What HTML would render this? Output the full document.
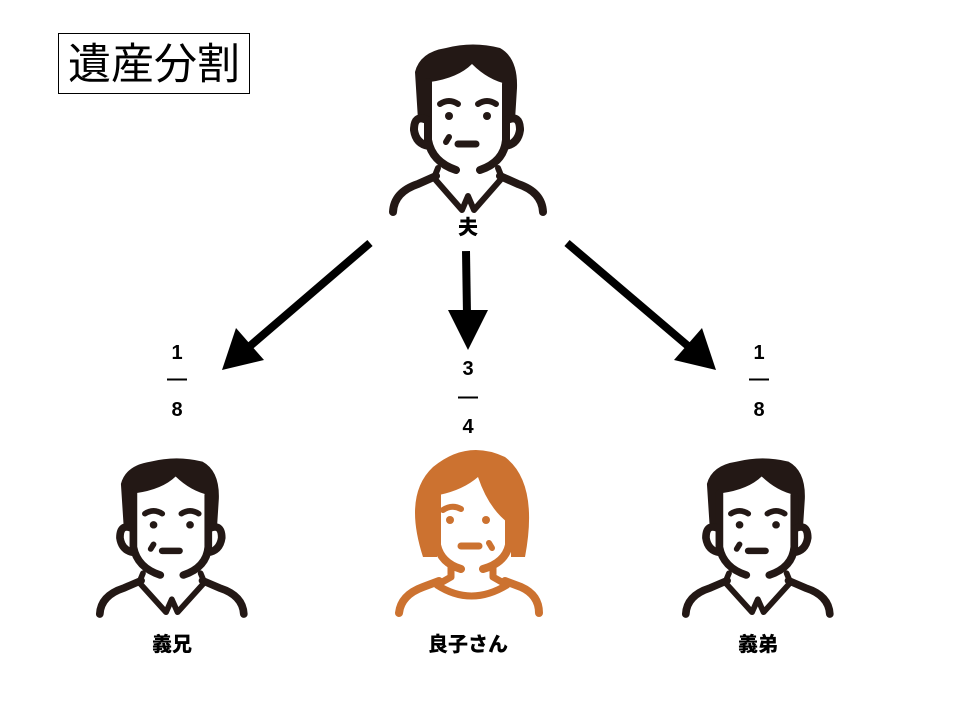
<!DOCTYPE html>
<html><head><meta charset="utf-8"><style>
html,body{margin:0;padding:0;background:#fff;width:960px;height:720px;overflow:hidden}
</style></head><body>
<svg width="960" height="720" viewBox="0 0 960 720" xmlns="http://www.w3.org/2000/svg">
<defs>
<g id="man" fill="none" stroke="#231815" stroke-width="8" stroke-linecap="round" stroke-linejoin="round">
  <path fill="#231815" stroke="none" d="M30,78 L27,30 Q32,10 58,6 Q85,-1 112,6 Q130,16 129,46 L127,78 L119,78 L119,42 Q100,38 84,22 Q70,36 42,40 L40,78 Z"/>
  <path d="M40,40 L40,98 Q44,120 68,128 M92,128 Q116,120 118,98 L118,42"/>
  <path d="M39,78 Q26,72 26,88 Q28,102 41,104 M119,78 Q132,72 132,88 Q130,102 117,104"/>
  <path d="M52,62 Q61,56 70,62 M90,62 Q99,56 108,62" stroke-width="6"/>
  <circle cx="61" cy="74" r="4" fill="#231815" stroke="none"/>
  <circle cx="99" cy="74" r="4" fill="#231815" stroke="none"/>
  <path d="M70,102 L88,102" stroke-width="7"/>
  <path d="M58,100 L61,95" stroke-width="6"/>
  <path d="M50,126 L46,136 L74,168 L80,154 L86,168 L114,136 L110,126" stroke-width="6"/>
  <path d="M5,170 Q6,150 30,142 L48,134 M112,134 L130,142 Q154,150 155,170"/>
</g>
<g id="woman" fill="none" stroke="#cc7230" stroke-width="8" stroke-linecap="round" stroke-linejoin="round">
  <path fill="#cc7230" stroke="none" d="M30,112 Q10,50 40,22 Q74,-6 112,12 Q146,38 132,112 L118,112 L118,80 Q96,65 85,32 Q70,45 46,50 L44,112 Z"/>
  <path d="M44,50 L44,100 Q48,118 68,124 M90,124 Q112,118 116,100 L116,75"/>
  <path d="M50,65 Q59,59 68,64" stroke-width="6"/>
  <circle cx="57" cy="75" r="4" fill="#cc7230" stroke="none"/>
  <circle cx="93" cy="75" r="4" fill="#cc7230" stroke="none"/>
  <path d="M68,101 L86,101" stroke-width="7"/>
  <path d="M96,98 L99,103" stroke-width="6"/>
  <path d="M58,122 L58,132 L44,140 Q78,162 114,140 L100,132 L100,122" stroke-width="7"/>
  <path d="M6,168 Q8,150 30,142 L46,136 M112,136 L128,142 Q146,150 146,168"/>
</g>
</defs>
<rect x="58.5" y="33.5" width="191" height="60" fill="#fff" stroke="#000" stroke-width="1"/>
<text x="154" y="79" text-anchor="middle" font-family="'Liberation Sans','Noto Sans CJK JP',sans-serif" font-size="43">遺産分割</text>

<use href="#man" x="388" y="42"/>
<g transform="translate(95,456) scale(0.96,0.93)"><use href="#man"/></g>
<g transform="translate(681,456) scale(0.96,0.93)"><use href="#man"/></g>
<use href="#woman" x="393" y="445"/>

<g font-family="'Liberation Sans','Noto Sans CJK JP',sans-serif" font-weight="900" font-size="20" text-anchor="middle" fill="#000">
<text x="468" y="234">夫</text>
<text x="172" y="651">義兄</text>
<text x="468" y="651">良子さん</text>
<text x="758" y="651">義弟</text>
<text x="177" y="359">1</text><text x="177" y="385">—</text><text x="177" y="416">8</text>
<text x="759" y="359">1</text><text x="759" y="385">—</text><text x="759" y="416">8</text>
<text x="468" y="375">3</text><text x="468" y="403">—</text><text x="468" y="433">4</text>
</g>

<g fill="#000" stroke="#000">
<line x1="370" y1="243" x2="250" y2="346" stroke-width="8"/>
<polygon points="222,370 236,328 264,360" stroke="none"/>
<line x1="466" y1="251" x2="467" y2="315" stroke-width="8"/>
<polygon points="448,310 488,310 468,350" stroke="none"/>
<line x1="567" y1="243" x2="688" y2="346" stroke-width="8"/>
<polygon points="716,370 674,360 702,328" stroke="none"/>
</g>
</svg>
</body></html>
